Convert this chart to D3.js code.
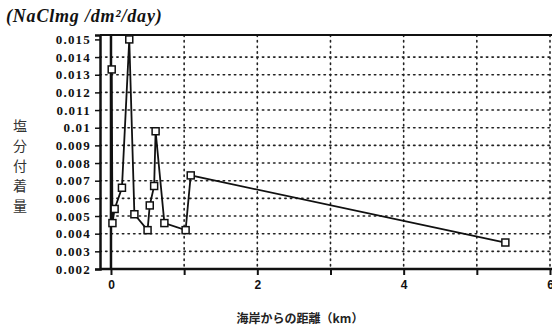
<!DOCTYPE html>
<html><head><meta charset="utf-8">
<script src="https://cdn.jsdelivr.net/npm/d3@7"></script>
<style>body{margin:0;background:#fff}svg{display:block}</style>
</head><body>
<script>
const distances = [0.01, 0.02, 0.05, 0.15, 0.25, 0.32, 0.50, 0.53, 0.59, 0.61, 0.73, 1.02, 1.09, 5.39];
const deposition = [0.0133, 0.0046, 0.0054, 0.0066, 0.0150, 0.0051, 0.0042, 0.0056, 0.0067, 0.0098, 0.0046, 0.0042, 0.0073, 0.0035];
const yTicks = [0.002,0.003,0.004,0.005,0.006,0.007,0.008,0.009,0.01,0.011,0.012,0.013,0.014,0.015];
const yTickLabels = ["0.002","0.003","0.004","0.005","0.006","0.007","0.008","0.009","0.01","0.011","0.012","0.013","0.014","0.015"];
const xTicks = [0,1,2,3,4,5,6];
const xTickLabels = ["0","","2","","4","","6"];
const unitLabel = "(NaClmg /dm²/day)";
const yTitle = ["塩","分","付","着","量"];
const xTitle = "海岸からの距離（km）";

const W = 552, H = 331;
const svg = d3.select("body").append("svg").attr("width", W).attr("height", H);
const x = d3.scaleLinear().domain([-0.15, 6]).range([100, 550]);
const y = d3.scaleLinear().domain([0.002, 0.01525]).range([269, 35]);

const serif = "Liberation Serif, DejaVu Serif, serif";

// grid
const grid = svg.append("g").attr("stroke", "#222").attr("stroke-width", 1.6).attr("stroke-dasharray", "1.4,4.2").attr("stroke-linecap","round");
yTicks.filter(v => v > 0.0025 && v < 0.0148).forEach(v => {
  grid.append("line").attr("x1", x(-0.15)).attr("x2", 552).attr("y1", y(v)).attr("y2", y(v));
});
xTicks.filter(v => v > 0).forEach(v => {
  grid.append("line").attr("x1", x(v)).attr("x2", x(v)).attr("y1", y(0.01525)).attr("y2", y(0.002));
});

// frame
svg.append("line").attr("x1", 100).attr("x2", 552).attr("y1", y(0.01525)).attr("y2", y(0.01525)).attr("stroke", "#111").attr("stroke-width", 2);
svg.append("line").attr("x1", x(0)).attr("x2", x(0)).attr("y1", y(0.01525)).attr("y2", y(0.002)).attr("stroke", "#111").attr("stroke-width", 2.5);

// axes
const yAxis = d3.axisLeft(y).tickValues(yTicks).tickFormat((d, i) => yTickLabels[i]).tickSize(5).tickPadding(4);
const gy = svg.append("g").attr("transform", "translate(100,0)").call(yAxis);
gy.select(".domain").attr("stroke", "#111").attr("stroke-width", 2.5);
gy.selectAll(".tick line").attr("stroke", "#111").attr("stroke-width", 1.5);
gy.selectAll("text").attr("font-family", serif).attr("font-weight", "bold").attr("font-size", 13).attr("letter-spacing", 1.2).attr("fill", "#111");

const xAxis = d3.axisBottom(x).tickValues(xTicks).tickFormat((d, i) => xTickLabels[i]).tickSize(6).tickPadding(5);
const gx = svg.append("g").attr("transform", `translate(0,${y(0.002)})`).call(xAxis);
gx.select(".domain").remove();
gx.append("line").attr("x1", 100).attr("x2", 552).attr("stroke", "#111").attr("stroke-width", 2.5);
gx.selectAll(".tick line").attr("stroke", "#111").attr("stroke-width", 2);
gx.selectAll("text").attr("font-family", "Liberation Sans, sans-serif").attr("font-weight", "bold").attr("font-size", 12).attr("fill", "#111");

// data
const pts = distances.map((d, i) => [d, deposition[i]]);
svg.append("path").datum(pts)
  .attr("d", d3.line().x(d => x(d[0])).y(d => y(d[1])))
  .attr("fill", "none").attr("stroke", "#111").attr("stroke-width", 1.8);
svg.append("g").selectAll("rect").data(pts).join("rect")
  .attr("x", d => x(d[0]) - 3.5).attr("y", d => y(d[1]) - 3.5)
  .attr("width", 7).attr("height", 7)
  .attr("fill", "#fff").attr("stroke", "#111").attr("stroke-width", 1.5);

// titles
svg.append("text").attr("x", 6).attr("y", 22).text(unitLabel)
  .attr("font-family", serif).attr("font-style", "italic").attr("font-weight", "bold")
  .attr("font-size", 18).attr("letter-spacing", 0.8).attr("fill", "#111");
svg.append("g").selectAll("text").data(yTitle).join("text")
  .attr("x", 20).attr("y", (d, i) => 131 + i * 20).attr("text-anchor", "middle")
  .attr("font-family", "Noto Sans CJK JP, sans-serif").attr("font-size", 14).attr("fill", "#333")
  .text(d => d);
svg.append("text").attr("x", 300).attr("y", 323).attr("text-anchor", "middle").text(xTitle)
  .attr("font-family", "Noto Sans CJK JP, sans-serif").attr("font-size", 12).attr("font-weight", "bold").attr("fill", "#222");
</script>
</body></html>
